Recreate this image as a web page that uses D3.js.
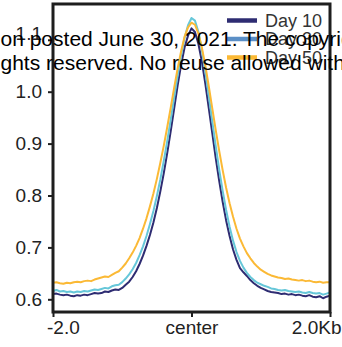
<!DOCTYPE html>
<html>
<head>
<meta charset="utf-8">
<script src="https://cdn.jsdelivr.net/npm/d3@7"></script>
<style>
  html, body { margin: 0; padding: 0; background: #fff; }
  svg { display: block; font-family: "Liberation Sans", Arial, sans-serif; }
</style>
</head>
<body>
<div id="chart"></div>
<script>
/** Positions along the profile, kb from center */
var positions = [
  -2.00, -1.95, -1.90, -1.85, -1.80, -1.75, -1.70, -1.65, -1.60, -1.55,
  -1.50, -1.45, -1.40, -1.35, -1.30, -1.25, -1.20, -1.15, -1.10, -1.05,
  -1.00, -0.95, -0.90, -0.85, -0.80, -0.75, -0.70, -0.65, -0.60, -0.55,
  -0.50, -0.45, -0.40, -0.35, -0.30, -0.25, -0.20, -0.15, -0.10, -0.05,
   0.00,  0.05,  0.10,  0.15,  0.20,  0.25,  0.30,  0.35,  0.40,  0.45,
   0.50,  0.55,  0.60,  0.65,  0.70,  0.75,  0.80,  0.85,  0.90,  0.95,
   1.00,  1.05,  1.10,  1.15,  1.20,  1.25,  1.30,  1.35,  1.40,  1.45,
   1.50,  1.55,  1.60,  1.65,  1.70,  1.75,  1.80,  1.85,  1.90,  1.95,
   2.00
];

var day10 = [
  0.610, 0.611, 0.609, 0.608, 0.609, 0.607, 0.606, 0.608, 0.607, 0.609,
  0.608, 0.610, 0.612, 0.611, 0.612, 0.615, 0.614, 0.617, 0.619, 0.618,
  0.622, 0.628, 0.634, 0.643, 0.654, 0.668, 0.684, 0.703, 0.724, 0.748,
  0.776, 0.808, 0.843, 0.882, 0.924, 0.968, 1.012, 1.052, 1.085, 1.108,
  1.122, 1.115, 1.092, 1.058, 1.015, 0.968, 0.920, 0.872, 0.828, 0.788,
  0.752, 0.722, 0.696, 0.676, 0.660, 0.652, 0.645, 0.637, 0.631, 0.626,
  0.622, 0.619, 0.616, 0.614, 0.613, 0.612, 0.610, 0.611, 0.609, 0.610,
  0.608, 0.609, 0.607, 0.606, 0.608, 0.605, 0.604, 0.606, 0.602, 0.605,
  0.607
];

var day30 = [
  0.616, 0.618, 0.615, 0.616, 0.614, 0.615, 0.613, 0.615, 0.614, 0.616,
  0.615, 0.617, 0.619, 0.618, 0.620, 0.622, 0.621, 0.625, 0.627, 0.628,
  0.633, 0.640, 0.648, 0.658, 0.670, 0.685, 0.702, 0.722, 0.745, 0.770,
  0.799, 0.831, 0.867, 0.905, 0.946, 0.989, 1.031, 1.070, 1.104, 1.128,
  1.142, 1.137, 1.115, 1.080, 1.038, 0.991, 0.943, 0.895, 0.850, 0.809,
  0.772, 0.740, 0.713, 0.691, 0.674, 0.661, 0.651, 0.643, 0.637, 0.632,
  0.629, 0.626, 0.624, 0.621, 0.620, 0.618, 0.617, 0.618, 0.616, 0.615,
  0.614, 0.615, 0.613, 0.612, 0.614, 0.612, 0.611, 0.612, 0.609, 0.611,
  0.613
];

var day50 = [
  0.632, 0.633, 0.631, 0.630, 0.632, 0.631, 0.633, 0.634, 0.633, 0.635,
  0.636, 0.635, 0.638, 0.640, 0.642, 0.644, 0.643, 0.647, 0.651, 0.654,
  0.661, 0.669, 0.679, 0.690, 0.703, 0.718, 0.736, 0.756, 0.779, 0.804,
  0.832, 0.863, 0.896, 0.932, 0.969, 1.008, 1.045, 1.078, 1.106, 1.124,
  1.133, 1.129, 1.112, 1.085, 1.050, 1.010, 0.968, 0.926, 0.886, 0.849,
  0.815, 0.785, 0.759, 0.736, 0.717, 0.702, 0.689, 0.679, 0.670, 0.663,
  0.657, 0.653, 0.649, 0.646, 0.644, 0.642, 0.641, 0.639, 0.640, 0.638,
  0.637, 0.636, 0.637, 0.635, 0.636, 0.634, 0.633, 0.634, 0.632, 0.633,
  0.633
];

var seriesNames = ["Day 10", "Day 30", "Day 50"];
var lineColors = ["#2e2c72", "#66c7d9", "#fbb935"];
var legendColors = ["#2e2c72", "#5b8fc6", "#fbb935"];

var yTicks = [0.6, 0.7, 0.8, 0.9, 1.0, 1.1];
var xTicks = [-2, 0, 2];
var xTickLabels = ["-2.0", "center", "2.0Kb"];

var watermark = [
  "on posted June 30, 2021. The copyright",
  "ghts reserved. No reuse allowed without"
];

var w = 342;
var h = 347;

var svg = d3.select("#chart").append("svg").attr("width", w).attr("height", h);

/** Les échelles */
var x = d3.scaleLinear().domain([-2, 2]).range([53, 330]);
var y = d3.scaleLinear().domain([0.6, 1.0]).range([299.3, 91.7]);
var yTop = 1.169;
var yBottom = 0.5755;

var axisColor = "#1e1e1e";

/** Axe Y */
var yAxis = svg.append("g")
  .attr("transform", "translate(" + x(-2) + ",0)")
  .call(d3.axisLeft(y).tickValues(yTicks).tickFormat(d3.format(".1f")).tickSize(5).tickPadding(6));
yAxis.select(".domain").remove();
yAxis.selectAll("line").attr("stroke", axisColor).attr("stroke-width", 2);
yAxis.selectAll("text").attr("fill", "#222").style("font-size", "19px")
  // le 1.1 est un peu remonté dans l'original
  .attr("dy", function (d) { return d > 1.05 ? "-0.02em" : "0.32em"; });

/** Axe X */
var xAxis = svg.append("g")
  .attr("transform", "translate(0," + y(yBottom) + ")")
  .call(d3.axisBottom(x).tickValues(xTicks).tickFormat(function (d, i) { return xTickLabels[i]; }).tickSize(5).tickPadding(4));
xAxis.select(".domain").remove();
xAxis.selectAll("line").attr("stroke", axisColor).attr("stroke-width", 2);
xAxis.selectAll("text").attr("fill", "#222").style("font-size", "19px")
  .attr("text-anchor", function (d, i) { return i === 0 ? "start" : (i === 2 ? "end" : "middle"); })
  .attr("dx", function (d, i) { return i === 0 ? -6.5 : (i === 2 ? 11 : 0); });

/** Les courbes */
var line = d3.line()
  .x(function (d) { return x(d[0]); })
  .y(function (d) { return y(d[1]); });

[day10, day30, day50].forEach(function (vals, i) {
  var pts = positions.map(function (p, j) { return [p, vals[j]]; });
  svg.append("path")
    .datum(pts)
    .attr("fill", "none")
    .attr("stroke", lineColors[i])
    .attr("stroke-width", 2)
    .attr("stroke-linejoin", "round")
    .attr("d", line);
});

/** Le cadre */
svg.append("rect")
  .attr("x", x(-2))
  .attr("y", y(yTop))
  .attr("width", x(2) - x(-2))
  .attr("height", y(yBottom) - y(yTop))
  .attr("fill", "none")
  .attr("stroke", axisColor)
  .attr("stroke-width", 3);

/** La légende */
var legend = svg.append("g").attr("transform", "translate(227,20.5)");
seriesNames.forEach(function (name, i) {
  var g = legend.append("g").attr("transform", "translate(0," + (i * 18.5) + ")");
  g.append("line")
    .attr("x1", 0).attr("x2", 30)
    .attr("y1", 0).attr("y2", 0)
    .attr("stroke", legendColors[i])
    .attr("stroke-width", 4.5);
  g.append("text")
    .attr("x", 38)
    .attr("y", 0)
    .attr("dy", "0.35em")
    .attr("fill", "#333")
    .style("font-size", "18px")
    .text(name);
});

/** Le filigrane */
watermark.forEach(function (t, i) {
  svg.append("text")
    .attr("x", 0.5)
    .attr("y", 46 + i * 23.5)
    .attr("fill", "#000")
    .style("font-size", "21px")
    .text(t);
});
</script>
</body>
</html>
